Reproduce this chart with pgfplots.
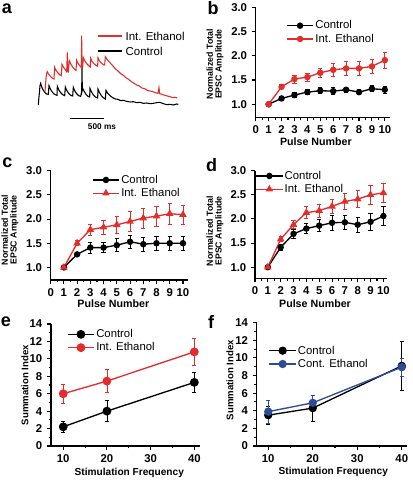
\documentclass[border=0pt]{standalone}
\usepackage{pgfplots}
\pgfplotsset{compat=1.18}
\usepackage{fontspec}
\setmainfont{Liberation Sans}
\definecolor{myred}{RGB}{226,45,45}
\definecolor{myblue}{RGB}{45,75,150}
\newcommand\fs[1]{\fontsize{#1}{#1}\selectfont}
\pgfplotsset{
  panel/.style={scale only axis, clip=false, anchor=south west,
    axis x line*=bottom, axis y line*=left,
    axis line style={line width=0.9pt,-},
    tick align=outside, major tick length=3pt, minor tick length=1.8pt,
    every tick/.style={line width=0.8pt, black},
    tick label style={font=\bfseries\fs{8.5}},
    /pgf/number format/assume math mode=true,
    legend style={draw=none, fill=none, inner sep=0pt, outer sep=0pt, font=\fs{8.5}, row sep=0pt,
      nodes={inner sep=1pt, text height=6.5pt, text depth=1.5pt}},
    legend cell align=left,
    legend image code/.code={\draw[mark repeat=2, mark phase=2, ##1] plot coordinates {(0pt,0pt) (10pt,0pt) (20pt,0pt)};},
  },
  pulse/.style={xmin=0, xmax=10.4, ymin=0.74, ymax=3, xtick={0,...,10}, minor x tick num=1,
    ytick={1,1.5,2,2.5,3},
    yticklabel style={/pgf/number format/fixed, /pgf/number format/fixed zerofill, /pgf/number format/precision=1}},
  freq/.style={xmin=7.2, xmax=41.3, ymin=0, ymax=14, xtick={10,20,30,40}, ytick={0,2,...,14},
    minor x tick num=1, minor y tick num=1},
  ser/.style={line width=1pt, mark options={solid}, error bars/y dir=both, error bars/y explicit,
    error bars/error bar style={line width=0.6pt},
    error bars/error mark options={rotate=90, mark size=1.6pt, line width=0.6pt}},
}
\begin{document}
\begin{tikzpicture}
\useasboundingbox (0,0) rectangle (309.75pt,360pt);
% ---------------- panel a ----------------
\begin{axis}[hide axis, scale only axis, clip=false, at={(22.5pt,341.25pt)}, anchor=north west,
  width=120pt, height=67.5pt, xmin=0, xmax=480, ymin=0, ymax=270, y dir=reverse]
\addplot[black, line width=0.8pt] coordinates {
(25,240) (26,225) (28,205) (30,182) (32,175) (36,188) (40,196) (45,203) (50,207) (55,208)
(57,182) (61,192) (66,200) (72,207) (78,210) (81,211)
(82,184) (86,194) (92,203) (98,209) (104,212)
(106,186) (110,196) (116,205) (122,211) (128,213)
(130,187) (134,197) (140,206) (146,212) (152,214) (155,200) (156,125) (157,195)
(158,190) (162,198) (168,208) (174,214) (179,216)
(180,190) (184,200) (190,210) (196,216) (203,219)
(204,192) (208,202) (214,212) (220,218) (226,222)
(228,196) (233,205) (240,212) (248,218) (256,222) (264,223) (272,227) (280,226) (290,229)
(300,231) (310,230) (320,233) (330,232) (340,235) (350,234) (360,236) (370,235) (380,233)
(390,232) (400,236) (410,239) (420,238) (430,240) (440,237) (445,238)};
\addplot[myred, line width=0.8pt] coordinates {
(45,200) (46,185) (48,160) (50,145) (52,140) (56,148) (62,155) (68,160) (72,162)
(74,127) (78,136) (84,144) (90,150) (94,152)
(96,118) (100,126) (106,134) (110,140) (112,82) (113,138) (115,140)
(118,107) (122,116) (128,126) (134,133) (138,136)
(140,106) (144,115) (150,123) (154,128) (155,32) (156,128) (158,128)
(160,98) (164,107) (170,116) (176,122) (181,126)
(182,100) (186,109) (192,116) (198,121) (203,124)
(204,98) (208,107) (214,114) (220,119) (224,120)
(226,95) (232,104) (240,113) (248,122) (256,131) (264,138) (272,146) (280,151) (288,158)
(296,163) (304,170) (312,175) (320,180) (328,183) (336,189) (344,191) (352,196) (360,198)
(368,200) (376,203) (384,205) (387,188) (389,206) (396,208) (404,211) (412,213) (420,215)
(428,218) (436,217) (442,219)};
\addplot[myred, line width=0.8pt] coordinates {(203,33) (275,33)};
\addplot[black, line width=0.8pt] coordinates {(203,78) (275,78)};
\addplot[black, line width=1pt] coordinates {(120,280) (223,280)};
\node[anchor=west, inner sep=0pt, font=\fs{8.6}] at (axis cs:286,33) {Int. Ethanol};
\node[anchor=west, inner sep=0pt, font=\fs{8.6}] at (axis cs:286,78) {Control};
\node[inner sep=0pt, font=\bfseries\fs{6.2}] at (axis cs:216,306) {500 ms};
\end{axis}
% ---------------- panel b ----------------
\begin{axis}[panel, pulse, at={(191.8pt,272.0pt)}, width=100.7pt, height=82.5pt, ymin=0.73,
  legend style={at={(0.226,0.894)}, anchor=north west}]
\addplot[ser, black, mark=*, mark size=1.9pt] table[x index=0, y index=1, y error index=2] {
x y e
1 1.00 0
2 1.12 0.04
3 1.19 0.05
4 1.25 0.05
5 1.28 0.06
6 1.27 0.07
7 1.30 0.05
8 1.25 0.05
9 1.32 0.06
10 1.30 0.07
};
\addlegendentry{Control}
\addplot[ser, myred, mark=*, mark size=1.9pt] table[x index=0, y index=1, y error index=2] {
x y e
1 1.00 0
2 1.36 0.04
3 1.52 0.08
4 1.56 0.08
5 1.65 0.10
6 1.71 0.13
7 1.74 0.14
8 1.74 0.14
9 1.78 0.15
10 1.91 0.17
};
\addlegendentry{Int. Ethanol}
\end{axis}
% ---------------- panel c ----------------
\begin{axis}[panel, pulse, at={(38.0pt,150.0pt)}, width=103.2pt, height=82.0pt,
  legend style={at={(0.30,0.976)}, anchor=north west}]
\addplot[ser, black, mark=*, mark size=1.9pt] table[x index=0, y index=1, y error index=2] {
x y e
1 1.00 0
2 1.27 0.04
3 1.41 0.11
4 1.41 0.10
5 1.46 0.13
6 1.53 0.14
7 1.48 0.15
8 1.50 0.15
9 1.50 0.15
10 1.50 0.14
};
\addlegendentry{Control}
\addplot[ser, myred, mark=triangle*, mark size=2.3pt] table[x index=0, y index=1, y error index=2] {
x y e
1 1.00 0
2 1.50 0.05
3 1.78 0.11
4 1.83 0.14
5 1.88 0.17
6 1.95 0.20
7 2.02 0.21
8 2.06 0.21
9 2.11 0.22
10 2.09 0.20
};
\addlegendentry{Int. Ethanol}
\end{axis}
% ---------------- panel d ----------------
\begin{axis}[panel, pulse, at={(191.25pt,151.3pt)}, width=98.8pt, height=80.7pt, xmax=10.26, ymin=0.77,
  legend style={at={(0.003,1.013)}, anchor=north west}]
\addplot[ser, black, mark=*, mark size=1.9pt] table[x index=0, y index=1, y error index=2] {
x y e
1 1.00 0
2 1.41 0.07
3 1.69 0.10
4 1.80 0.10
5 1.86 0.12
6 1.92 0.15
7 1.93 0.14
8 1.88 0.15
9 1.94 0.17
10 2.06 0.20
};
\addlegendentry{Control}
\addplot[ser, myred, mark=triangle*, mark size=2.3pt] table[x index=0, y index=1, y error index=2] {
x y e
1 1.00 0
2 1.58 0.05
3 1.88 0.08
4 2.13 0.12
5 2.17 0.14
6 2.26 0.15
7 2.36 0.17
8 2.41 0.18
9 2.50 0.20
10 2.54 0.20
};
\addlegendentry{Int. Ethanol}
\end{axis}
% ---------------- panel e ----------------
\begin{axis}[panel, freq, at={(38.25pt,25.5pt)}, width=111.75pt, height=91.5pt,
  legend style={at={(0.107,0.97)}, anchor=north west}]
\addplot[ser, black, mark=*, mark size=2.8pt] table[x index=0, y index=1, y error index=2] {
x y e
10 2.2 0.63
20 4.0 1.2
40 7.3 1.2
};
\addlegendentry{Control}
\addplot[ser, myred, mark=*, mark size=2.8pt] table[x index=0, y index=1, y error index=2] {
x y e
10 6.0 1.1
20 7.45 1.3
40 10.8 1.5
};
\addlegendentry{Int. Ethanol}
\end{axis}
% ---------------- panel f ----------------
\begin{axis}[panel, freq, at={(192.5pt,25.5pt)}, width=112.5pt, height=92.5pt, xmin=7.4, xmax=41.1,
  legend style={at={(0.08,0.827)}, anchor=north west}]
\addplot[ser, black, mark=*, mark size=2.6pt] table[x index=0, y index=1, y error index=2] {
x y e
10 3.5 1.0
20 4.3 1.5
40 9.1 2.75
};
\addlegendentry{Control}
\addplot[ser, myblue, mark=*, mark size=2.6pt] table[x index=0, y index=1, y error index=2] {
x y e
10 3.9 1.3
20 4.9 0.9
40 8.95 1.0
};
\addlegendentry{Cont. Ethanol}
\end{axis}
% ---------------- labels ----------------
\begin{scope}[every node/.style={inner sep=0pt}]
\node[font=\bfseries\fs{13.5}] at (5.25pt,353.8pt) {a};
\node[font=\bfseries\fs{13.5}] at (159.75pt,353.8pt) {b};
\node[font=\bfseries\fs{13.5}] at (5.5pt,238.3pt) {c};
\node[font=\bfseries\fs{13.5}] at (158.8pt,236.25pt) {d};
\node[font=\bfseries\fs{13.5}] at (4.5pt,118.7pt) {e};
\node[font=\bfseries\fs{13.5}] at (158.25pt,118.7pt) {f};
\node[rotate=90, align=center, font=\bfseries\fs{6.6}\linespread{1.1}] at (161.25pt,311.85pt) {Normalized Total\\EPSC Amplitude};
\node[rotate=90, align=center, font=\bfseries\fs{6.6}] at (7.5pt,187.5pt) {Normalized Total\\EPSC Amplitude};
\node[rotate=90, align=center, font=\bfseries\fs{6.6}] at (161.25pt,186.75pt) {Normalized Total\\EPSC Amplitude};
\node[font=\bfseries\fs{8}] at (236.9pt,253.7pt) {Pulse Number};
\node[font=\bfseries\fs{8}] at (85pt,132.5pt) {Pulse Number};
\node[font=\bfseries\fs{8}] at (236.25pt,132.5pt) {Pulse Number};
\node[rotate=90, font=\bfseries\fs{7.2}] at (18.75pt,71.25pt) {Summation Index};
\node[rotate=90, font=\bfseries\fs{7.2}] at (172.5pt,75pt) {Summation Index};
\node[font=\bfseries\fs{7.6}] at (97pt,5.5pt) {Stimulation Frequency};
\node[font=\bfseries\fs{7.6}] at (250pt,6.2pt) {Stimulation Frequency};
\end{scope}
\end{tikzpicture}
\end{document}
